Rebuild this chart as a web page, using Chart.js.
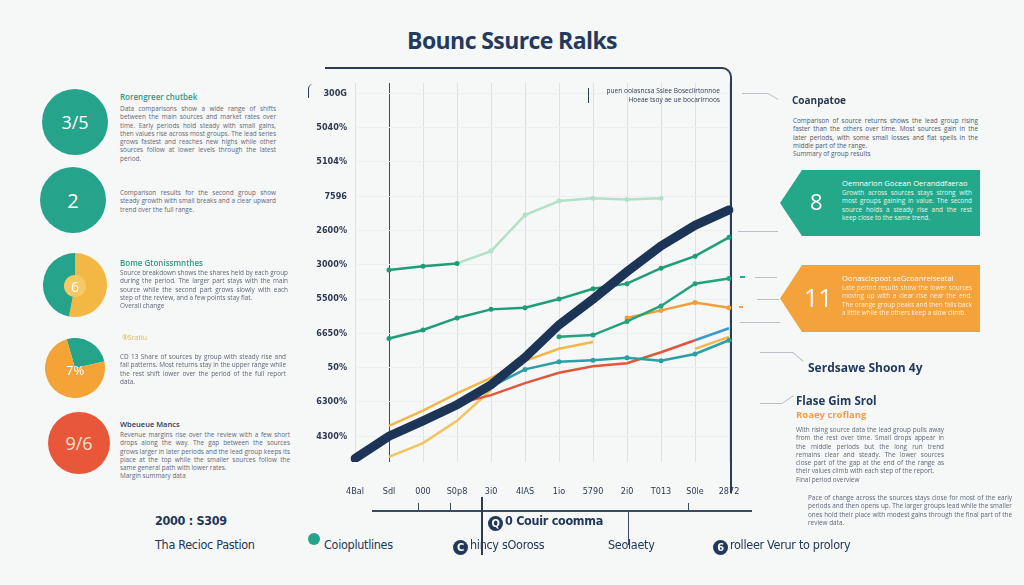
<!DOCTYPE html>
<html>
<head>
<meta charset="utf-8">
<script src="https://cdn.jsdelivr.net/npm/chart.js@4.4.0/dist/chart.umd.min.js"></script>
<style>
body{margin:0;width:1024px;height:585px;background:#f6f7f7;position:relative;overflow:hidden;font-family:"Open Sans",sans-serif;color:#233a5e}
.a{position:absolute;white-space:nowrap}
.p{position:absolute;font-size:6.4px;line-height:8.3px;color:#5f6877;text-align:justify;text-align-last:left}
.c{position:absolute;border-radius:50%;color:#fff;display:flex;align-items:center;justify-content:center}
.ln{position:absolute;background:#b9bfc7}
.b{font-family:"DejaVu Sans Condensed","Liberation Sans Narrow",sans-serif;font-size:12.5px;color:#22385a;letter-spacing:-0.3px}
.ic{display:inline-block;width:15px;height:15px;border-radius:50%;background:#22385a;color:#fff;font-size:11px;line-height:15px;text-align:center;vertical-align:-2px;margin-right:2px;font-weight:bold}
</style>
</head>
<body>
<div class="a" style="left:0;width:1024px;top:24px;text-align:center;font-size:23px;font-weight:700;letter-spacing:-0.6px;color:#233a5e">Bounc Ssurce Ralks</div>

<!-- left column -->
<div class="c" style="left:42px;top:89px;width:66px;height:66px;background:#25a38b;font-size:18px">3/5</div>
<div class="a" style="left:120px;top:91px;font-size:8px;font-weight:600;color:#2a9d80">Rorengreer chutbek</div>
<div class="p" style="left:120px;top:105px;width:156px">Data comparisons show a wide range of shifts between the main sources and market rates over time. Early periods hold steady with small gains, then values rise across most groups. The lead series grows fastest and reaches new highs while other sources follow at lower levels through the latest period.</div>
<div class="c" style="left:40px;top:167px;width:66px;height:66px;background:#25a38b;font-size:20px">2</div>
<div class="p" style="left:120px;top:189px;width:156px">Comparison results for the second group show steady growth with small breaks and a clear upward trend over the full range.</div>

<div class="a" style="left:43px;top:253px;width:64px;height:64px"><canvas id="pieA"></canvas></div>
<div class="c" style="left:64px;top:275px;width:22px;height:22px;background:#f6c964;color:#fff;font-size:14px">6</div>
<div class="a" style="left:120px;top:257px;font-size:8px;font-weight:600;color:#2a9d80">Bome Gtonissmnthes</div>
<div class="p" style="left:120px;top:269px;width:168px">Source breakdown shows the shares held by each group during the period. The larger part stays with the main source while the second part grows slowly with each step of the review, and a few points stay flat.<br>Overall change</div>

<div class="a" style="left:45px;top:338px;width:60px;height:60px"><canvas id="pieB"></canvas></div>
<div class="a" style="left:66px;top:361px;font-size:13px;color:#fff">7%</div>
<div class="a" style="left:122px;top:333px;font-size:7px;color:#e9b44c">®Sratiu</div>
<div class="p" style="left:120px;top:353px;width:166px">CD 13 Share of sources by group with steady rise and fall patterns. Most returns stay in the upper range while the rest shift lower over the period of the full report data.</div>

<div class="c" style="left:48px;top:412px;width:62px;height:62px;background:#e8573a;color:#fbe3d0;font-size:18px">9/6</div>
<div class="a" style="left:120px;top:419px;font-size:7.5px;font-weight:600;color:#2c3b55">Wbeueue Mancs</div>
<div class="p" style="left:120px;top:431px;width:170px">Revenue margins rise over the review with a few short drops along the way. The gap between the sources grows larger in later periods and the lead group keeps its place at the top while the smaller sources follow the same general path with lower rates.<br>Margin summary data</div>

<!-- chart frame -->
<div class="a" style="left:325px;top:67px;width:405px;height:424px;border-top:2px solid #2d3b55;border-right:2px solid #2d3b55;border-top-right-radius:10px"></div>
<div class="a" style="left:308px;top:84px;width:4px;height:14px;border-left:1.5px solid #2d3b55;border-top-left-radius:6px"></div>
<div class="a" style="left:372px;top:510px;width:380px;border-top:2px solid #3b4a63"></div>
<div class="ln" style="left:418px;top:503px;width:1px;height:8px;background:#3b4a63"></div>
<div class="ln" style="left:450px;top:503px;width:1px;height:8px;background:#3b4a63"></div>
<div class="ln" style="left:481px;top:497px;width:1.5px;height:58px;background:#2d3b55"></div>
<div class="ln" style="left:628px;top:511px;width:1px;height:34px;background:#3b4a63"></div>
<div class="ln" style="left:688px;top:503px;width:1px;height:8px;background:#3b4a63"></div>

<div class="a" style="left:300px;top:62px;width:465px;height:460px"><canvas id="main"></canvas></div>
<div class="ln" style="left:588px;top:88px;width:1px;height:15px;background:#2d3b55"></div>
<div class="a" style="left:592px;top:86px;width:128px;text-align:right;font-size:6.6px;line-height:9px;color:#2f3c55">puen ooiasncsa Sslee Boseclirtonnoe<br>Hoeae tsoy ae ue bocarlrnoos</div>

<!-- right column -->
<div class="ln" style="left:742px;top:93px;width:26px;height:1px"></div>
<div class="ln" style="left:768px;top:93px;width:12px;height:1px;transform:rotate(30deg);transform-origin:0 0"></div>
<div class="a" style="left:792px;top:93px;font-size:10px;font-weight:700;color:#2a3850">Coanpatoe</div>
<div class="p" style="left:793px;top:117px;width:185px;color:#4e5869">Comparison of source returns shows the lead group rising faster than the others over time. Most sources gain in the later periods, with some small losses and flat spells in the middle part of the range.<br>Summary of group results</div>

<div class="ln" style="left:738px;top:231px;width:40px;height:1px"></div>
<div class="ln" style="left:740px;top:276px;width:5px;height:2px;background:#25a38b"></div>
<div class="ln" style="left:755px;top:277px;width:22px;height:1px"></div>
<div class="ln" style="left:739px;top:306px;width:4px;height:2px;background:#f0a040"></div>
<div class="ln" style="left:757px;top:299px;width:22px;height:1px"></div>
<div class="ln" style="left:740px;top:322px;width:40px;height:1px"></div>

<div class="a" style="left:780px;top:170px;width:200px;height:66px;background:#25a88a;clip-path:polygon(0 50%,11% 0,100% 0,100% 100%,11% 100%)"></div>
<div class="a" style="left:810px;top:186px;font-size:22px;color:#fff">8</div>
<div class="a" style="left:842px;top:178px;font-size:7.6px;color:#fff">Oemnarion Gocean Oeranddfaerao</div>
<div class="p" style="left:842px;top:189px;width:130px;color:#e4f5ef">Growth across sources stays strong with most groups gaining in value. The second source holds a steady rise and the rest keep close to the same trend.</div>

<div class="a" style="left:780px;top:265px;width:200px;height:67px;background:#f4a23b;clip-path:polygon(0 50%,11% 0,100% 0,100% 100%,11% 100%)"></div>
<div class="a" style="left:804px;top:280px;font-size:25px;color:#fff">11</div>
<div class="a" style="left:842px;top:273px;font-size:7.6px;color:#fff">Oonasclepoat saGcoanrelseatal</div>
<div class="p" style="left:842px;top:284px;width:130px;color:#fdf0dc">Late period results show the lower sources moving up with a clear rise near the end. The orange group peaks and then falls back a little while the others keep a slow climb.</div>

<div class="ln" style="left:760px;top:352px;width:33px;height:1px"></div>
<div class="ln" style="left:793px;top:352px;width:14px;height:1px;transform:rotate(40deg);transform-origin:0 0"></div>
<div class="a" style="left:808px;top:359px;font-size:12px;font-weight:700;color:#233a5e">Serdsawe Shoon 4y</div>
<div class="ln" style="left:760px;top:403px;width:22px;height:1px"></div>
<div class="ln" style="left:782px;top:403px;width:14px;height:1px;transform:rotate(-35deg);transform-origin:0 0"></div>
<div class="a" style="left:796px;top:393px;font-size:11.5px;font-weight:700;color:#233a5e">Flase Gim Srol</div>
<div class="a" style="left:796px;top:408px;font-size:9.5px;font-weight:700;color:#f0a040">Roaey croflang</div>
<div class="p" style="left:796px;top:426px;width:148px">With rising source data the lead group pulls away from the rest over time. Small drops appear in the middle periods but the long run trend remains clear and steady. The lower sources close part of the gap at the end of the range as their values climb with each step of the report.<br>Final period overview</div>
<div class="p" style="left:808px;top:494px;width:204px">Pace of change across the sources stays close for most of the early periods and then opens up. The larger groups lead while the smaller ones hold their place with modest gains through the final part of the review data.</div>

<!-- bottom row -->
<div class="a b" style="left:155px;top:513px;font-weight:700">2000 : S309</div>
<div class="a b" style="left:155px;top:537px">Tha Recioc Pastion</div>
<div class="a" style="left:308px;top:533px;width:12px;height:12px;border-radius:50%;background:#25a38b"></div>
<div class="a b" style="left:324px;top:537px">Coioplutlines</div>
<div class="a b" style="left:488px;top:513px;font-weight:700"><span class="ic">Q</span>0 Couir coomma</div>
<div class="a b" style="left:453px;top:537px"><span class="ic">C</span>hincy sOoross</div>
<div class="a b" style="left:608px;top:537px">Seolaety</div>
<div class="a b" style="left:713px;top:537px"><span class="ic">6</span>rolleer Verur to prolory</div>

<script>
const xLabels = ['4Bal', 'Sdl', '000', 'S0p8', '3i0', '4IAS', '1io', '5790', '2i0', 'T013', 'S0le', '2872'];
const yLabels = ['300G', '5040%', '5104%', '7596', '2600%', '3000%', '5500%', '6650%', '50%', '6300%', '4300%'];

const navySeries = [-0.65, 0.0, 0.45, 0.92, 1.5, 2.3, 3.25, 4.0, 4.8, 5.55, 6.15, 6.6];
const greenTop = [null, 4.85, 4.96, 5.04, 5.4, 6.45, 6.86, 6.94, 6.9, 6.94, null, null];
const greenMid = [null, 2.85, 3.1, 3.45, 3.7, 3.75, 4.0, 4.3, 4.45, 4.9, 5.25, 5.8];
const greenLow = [null, null, null, null, null, null, 2.9, 2.95, 3.35, 3.8, 4.45, 4.6];
const tealSeries = [null, null, null, null, 1.45, 1.95, 2.17, 2.22, 2.29, 2.2, 2.4, 2.8];
const redSeries = [null, 0.05, 0.5, 0.95, 1.2, 1.55, 1.85, 2.04, 2.13, 2.45, 2.8, 3.15];
const orangeLeft = [null, 0.3, 0.75, 1.25, 1.7, 2.2, 2.55, 2.75, null, null, null, null];
const yellowLow = [null, -0.6, -0.2, 0.45, 1.35, null, null, null, null, null, null, null];
const orangeRight = [null, null, null, null, null, null, null, null, 3.45, 3.67, 3.9, 3.75];
const yellowRight = [null, null, null, null, null, null, null, null, null, null, 2.55, 2.9];

const pieAValues = [53, 47];
const pieBValues = [26, 74];

function line(data, color, width, pts) {
    return {
        data: data,
        borderColor: color,
        backgroundColor: color,
        borderWidth: width,
        pointRadius: pts ? 2.5 : 0,
        pointBorderWidth: 0,
        tension: 0,
        spanGaps: false
    };
}

const navyLine = line(navySeries, '#1c3455', 9, false);
navyLine.borderCapStyle = 'round';
const topLine = line(greenTop, '#1f9d78', 2.5, true);
topLine.segment = { borderColor: c => c.p0DataIndex >= 3 ? '#b3e1c8' : '#1f9d78' };
topLine.pointBackgroundColor = c => c.dataIndex >= 4 ? '#b3e1c8' : '#1f9d78';
const redLine = line(redSeries, '#e2573b', 2.5, false);
redLine.segment = { borderColor: c => c.p0DataIndex >= 10 ? '#3b9bc9' : '#e2573b' };

new Chart(document.getElementById('main'), {
    type: 'line',
    data: {
        labels: xLabels,
        datasets: [
            navyLine,
            topLine,
            line(greenMid, '#1f9d78', 2.5, true),
            line(greenLow, '#22a37b', 2.5, true),
            line(tealSeries, '#2b9fa6', 2.5, true),
            redLine,
            line(orangeLeft, '#f0b848', 2.5, false),
            line(yellowLow, '#f2c45a', 2.5, false),
            line(orangeRight, '#ef9f3a', 2.5, true),
            line(yellowRight, '#f2b84a', 2.5, false)
        ]
    },
    options: {
        responsive: true,
        maintainAspectRatio: false,
        animation: false,
        layout: { padding: { top: 21, right: 36, bottom: 20, left: 0 } },
        plugins: { legend: { display: false }, tooltip: { enabled: false } },
        scales: {
            x: {
                offset: false,
                border: { display: false },
                grid: { color: c => c.index === 1 ? '#3d4a63' : '#dde1e6', drawTicks: false },
                ticks: { padding: 24, maxRotation: 0, autoSkip: false, color: '#2e3a52', font: { size: 9, family: 'DejaVu Sans Condensed' } },
                afterFit: s => { s.height = 40; }
            },
            y: {
                min: -0.75,
                max: 10.3,
                border: { display: false },
                grid: { color: '#eceef1', drawTicks: false },
                afterBuildTicks: s => { s.ticks = yLabels.map((_, i) => ({ value: 10 - i })); },
                ticks: { padding: 8, color: '#2e3a52', font: { size: 9, family: 'DejaVu Sans Condensed', weight: 'bold' }, callback: v => yLabels[10 - v] },
                afterFit: s => { s.width = 55; }
            }
        }
    }
});

// small pies on the left
new Chart(document.getElementById('pieA'), {
    type: 'pie',
    data: { labels: ['A', 'B'], datasets: [{ data: pieAValues, backgroundColor: ['#f3b843', '#25a38b'], borderWidth: 0 }] },
    options: { responsive: true, maintainAspectRatio: false, animation: false, plugins: { legend: { display: false }, tooltip: { enabled: false } } }
});
new Chart(document.getElementById('pieB'), {
    type: 'pie',
    data: { labels: ['A', 'B'], datasets: [{ data: pieBValues, backgroundColor: ['#25a38b', '#f4a436'], borderWidth: 0 }] },
    options: { rotation: -16, responsive: true, maintainAspectRatio: false, animation: false, plugins: { legend: { display: false }, tooltip: { enabled: false } } }
});
</script>
</body>
</html>
